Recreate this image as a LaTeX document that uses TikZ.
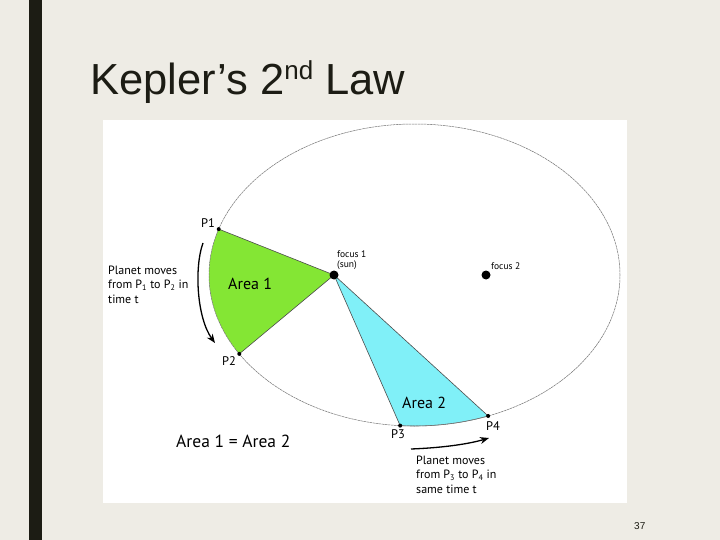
\documentclass[tikz,border=0pt]{standalone}
\usepackage{fontspec}
\setmainfont{Liberation Sans}
\newfontfamily\labelfont{PT Sans}
\usetikzlibrary{calc,arrows.meta}
\definecolor{bg}{RGB}{238,236,229}
\definecolor{dark}{RGB}{28,28,20}
\definecolor{areaA}{RGB}{132,230,52}
\definecolor{areaB}{RGB}{128,240,248}
\tikzset{
  orbit/.style={draw=black!55, line width=0.5pt, dash pattern=on 2.5pt off 0.6pt},
  edge/.style={draw=black!70, line width=0.6pt},
  lbl/.style={inner sep=0pt, text=black, anchor=base west, font=\labelfont\fontsize{12.5}{14}\selectfont},
  arealbl/.style={lbl, font=\labelfont\fontsize{16}{18}\selectfont},
  smalllbl/.style={lbl, font=\labelfont\fontsize{9.5}{8}\selectfont, align=left},
  para/.style={inner sep=0pt, text=black, anchor=north west, align=left, font=\labelfont\fontsize{12}{14.7}\selectfont},
  move/.style={draw=black, line width=1.3pt, -{Stealth[length=9pt,width=7pt]}},
}
\begin{document}
\begin{tikzpicture}[x=1pt,y=-1pt]
\useasboundingbox (0,0) rectangle (720,540);
\fill[bg] (0,0) rectangle (720,540);
\fill[dark] (29,0) rectangle (42,540);
\fill[white] (103,120) rectangle (627,503);

% title
\node[inner sep=0pt, anchor=base west, text=dark, font=\fontsize{43.5}{48}\selectfont] (title) at (90,95)
  {Kepler’s 2\raisebox{15pt}{\fontsize{26}{26}\selectfont nd} Law};

% geometry
\coordinate (C) at (414.5,275);
\coordinate (F1) at (334,275);
\coordinate (F2) at (486,275);
\coordinate (P1) at ($(C)+(162.3:205.5pt and 151pt)$);
\coordinate (P2) at ($(C)+(211.5:205.5pt and 151pt)$);
\coordinate (P3) at ($(C)+(266:205.5pt and 151pt)$);
\coordinate (P4) at ($(C)+(291:205.5pt and 151pt)$);

% areas
\fill[areaA] (F1) -- (P1) arc[start angle=162.3, end angle=211.5, x radius=205.5pt, y radius=151pt] -- cycle;
\fill[areaB] (F1) -- (P3) arc[start angle=266, end angle=291, x radius=205.5pt, y radius=151pt] -- cycle;

% orbit
\draw[orbit] (C) ellipse[x radius=205.5pt, y radius=151pt];
\draw[edge] (P1) -- (F1) -- (P2);
\draw[edge] (P3) -- (F1) -- (P4);
\draw[edge, draw=black!55] (P3) arc[start angle=266, end angle=291, x radius=205.5pt, y radius=151pt];

% dots
\fill (F1) circle[radius=4.5pt];
\fill (F2) circle[radius=4.5pt];
\foreach \p in {P1,P2,P3,P4} \fill (\p) circle[radius=2pt];

% labels
\node[lbl] (p1lab) at (201,228) {P1};
\node[lbl] (p2lab) at (222,365) {P2};
\node[lbl] (p3lab) at (391,438) {P3};
\node[lbl] (p4lab) at (486,430) {P4};
\node[arealbl] (a1lab) at (228,289) {Area 1};
\node[arealbl] (a2lab) at (402,408) {Area 2};
\node[arealbl, font=\labelfont\fontsize{17.5}{20}\selectfont] (eqlab) at (176,447) {Area 1 = Area 2};
\node[smalllbl] (f1lab) at (337,258) {focus 1};
\node[smalllbl] (sunlab) at (337,267) {(sun)};
\node[smalllbl] (f2lab) at (491,269) {focus 2};

\node[para] (leftpara) at (108,265.5)
  {Planet moves\\from P\textsubscript{1} to P\textsubscript{2} in\\time t};
\node[para] (rightpara) at (416,455.5)
  {Planet moves\\from P\textsubscript{3} to P\textsubscript{4} in\\same time t};

% motion arrows
\coordinate (m1s) at (203,243);
\coordinate (m1e) at (215,343);
\draw[move] (m1s) .. controls (194,268) and (197,318) .. (m1e);
\coordinate (m2s) at (411,449);
\coordinate (m2e) at (489,438);
\draw[move] (m2s) .. controls (437,448) and (465,445) .. (m2e);

% page number
\node[inner sep=0pt, anchor=base west, text=dark, font=\fontsize{10}{12}\selectfont] (pagenum) at (634,529) {37};
\end{tikzpicture}
\end{document}
